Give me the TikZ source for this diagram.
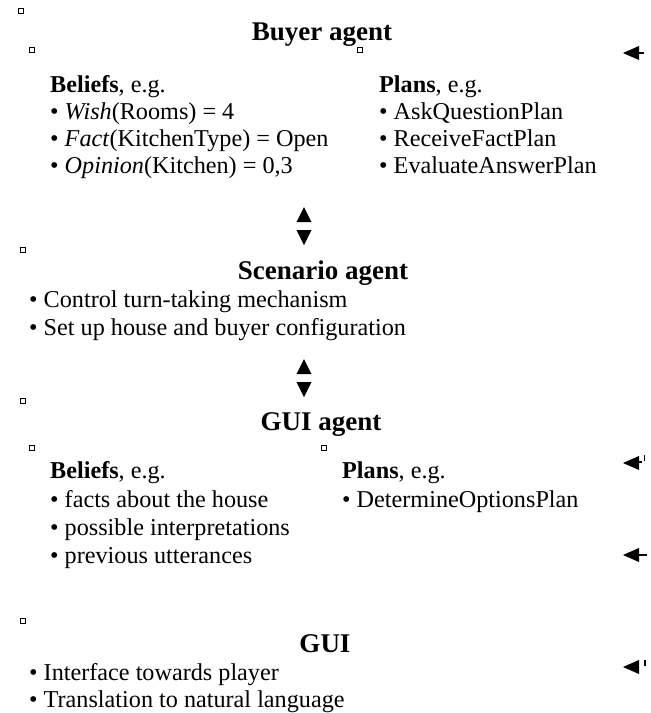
\documentclass[tikz,border=0pt]{standalone}
\usepackage{fontspec}
\setmainfont{Liberation Serif}
\begin{document}
\begin{tikzpicture}[x=1pt,y=-1pt,
  title/.style={font=\fontsize{27}{31}\selectfont\bfseries, anchor=base, inner sep=0pt},
  body/.style={font=\fontsize{24.2}{28}\selectfont, anchor=base west, inner sep=0pt},
  marker/.style={draw=black, fill=white, line width=1.4pt, minimum size=5.5pt, inner sep=0pt, shape=rectangle},
  tip/.style={fill=black},
  stub/.style={line width=1.4pt}]
\useasboundingbox (0,0) rectangle (651,713);
\fill[white] (0,0) rectangle (651,713);

% Buyer agent
\node[marker] (m1) at (21,11) {};
\node[title] (buyer) at (322,40) {Buyer agent};
\node[marker] (m2) at (32,50) {};
\node[marker] (m3) at (360,50) {};
\fill[tip] (623,53) -- (639,46) -- (639,60) -- cycle;
\draw[stub] (639,53) -- (644,53);
\node[body] (bb) at (50,92) {\textbf{Beliefs}, e.g.};
\node[body] (b1) at (50,119) {• \textit{Wish}(Rooms) = 4};
\node[body] (b2) at (50,146) {• \textit{Fact}(KitchenType) = Open};
\node[body] (b3) at (50,173) {• \textit{Opinion}(Kitchen) = 0,3};
\node[body] (pp) at (379,92) {\textbf{Plans}, e.g.};
\node[body] (p1) at (379,119) {• AskQuestionPlan};
\node[body] (p2) at (379,146) {• ReceiveFactPlan};
\node[body] (p3) at (379,173) {• EvaluateAnswerPlan};

% arrows buyer <-> scenario
\fill[tip] (304,207) -- (311.5,222) -- (296.5,222) -- cycle;
\fill[tip] (296.5,230) -- (311.5,230) -- (304,245) -- cycle;

% Scenario agent
\node[marker] (m4) at (23,250) {};
\node[title] (scen) at (323,279) {Scenario agent};
\node[body] (s1) at (29,307) {• Control turn-taking mechanism};
\node[body] (s2) at (29,335) {• Set up house and buyer configuration};

% arrows scenario <-> gui agent
\fill[tip] (304,359) -- (311.5,374) -- (296.5,374) -- cycle;
\fill[tip] (296.5,382) -- (311.5,382) -- (304,397) -- cycle;

% GUI agent
\node[marker] (m5) at (23,401) {};
\node[title] (guiag) at (321,430) {GUI agent};
\node[marker] (m6) at (32,448) {};
\node[marker] (m7) at (324,448) {};
\fill[tip] (623,463) -- (639,456) -- (639,470) -- cycle;
\draw[stub] (639,462) -- (642,462);
\draw[stub] (644.5,455) -- (644.5,461);
\node[body] (gb) at (50,478) {\textbf{Beliefs}, e.g.};
\node[body] (g1) at (50,507) {• facts about the house};
\node[body] (g2) at (50,535) {• possible interpretations};
\node[body] (g3) at (50,563) {• previous utterances};
\node[body] (gp) at (342,478) {\textbf{Plans}, e.g.};
\node[body] (gp1) at (342,507) {• DetermineOptionsPlan};
\fill[tip] (623,555) -- (639,548) -- (639,562) -- cycle;
\draw[stub] (639,555) -- (647,555);

% GUI
\node[marker] (m8) at (23,621) {};
\node[title] (gui) at (325,652) {GUI};
\node[body] (u1) at (29,680) {• Interface towards player};
\node[body] (u2) at (29,707) {• Translation to natural language};
\fill[tip] (623,667) -- (639,660) -- (639,674) -- cycle;
\draw[stub] (645,660) -- (645,666);
\end{tikzpicture}
\end{document}
